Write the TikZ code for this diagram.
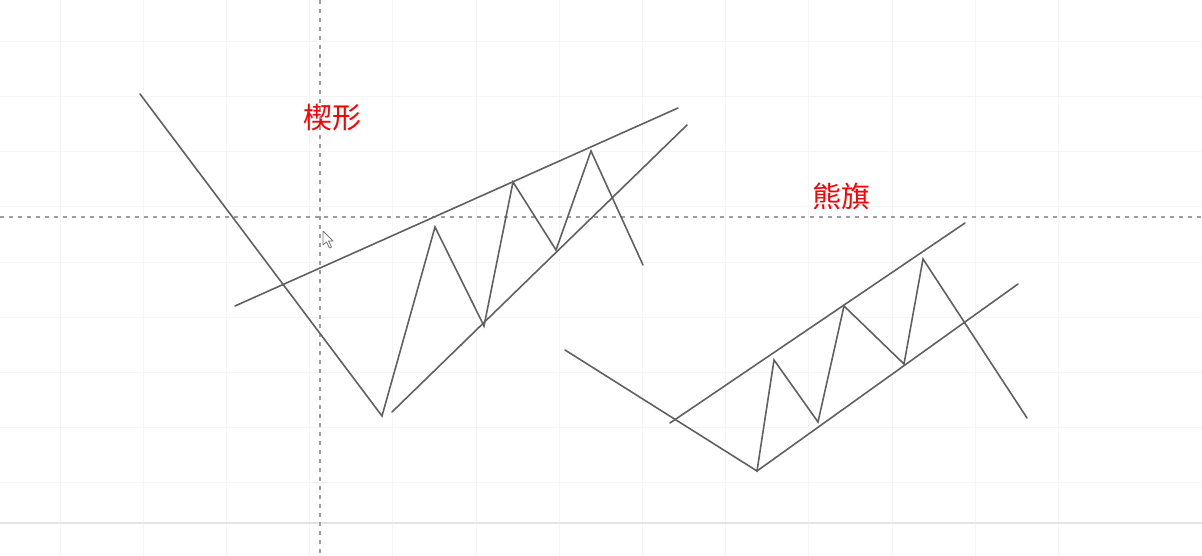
\documentclass[tikz,border=0pt]{standalone}
\usepackage{fontspec}
\newfontfamily\cjk{Noto Sans CJK SC}
\usetikzlibrary{positioning}

\begin{document}
\begin{tikzpicture}[x=1pt, y=-1pt]
			
			\tikzstyle{leg}=[draw=black!62, line width=1.6pt, line cap=round]
			\tikzstyle{guide}=[draw=black!38, line width=1.3pt, dash pattern=on 4pt off 5pt]
			\tikzstyle{gridline}=[draw=black!4, line width=1pt]
			\tikzstyle{title}=[text=red, font=\cjk\fontsize{29}{29}\selectfont]
			
			\useasboundingbox [fill=white] (0,0) rectangle (1202,556);
			
			%% faint background grid
			\foreach \gx in {60,143.2,...,1140} \draw [gridline] (\gx,0) -- (\gx,556);
			\foreach \gy in {42,97,...,500} \draw [gridline] (0,\gy) -- (1202,\gy);
			\draw [draw=black!10, line width=2pt] (0,523) -- (1202,523);
			
			\draw [guide] (320,0) -- (320,556);
			\draw [guide] (0,217) -- (1202,217);
			
			%% wedge
			\coordinate (w0) at (140,94);
			\coordinate (w1) at (382,416);
			\coordinate (w2) at (435,227);
			\coordinate (w3) at (484,326);
			\coordinate (w4) at (513,182);
			\coordinate (w5) at (556,250);
			\coordinate (w6) at (591,151);
			\coordinate (w7) at (643,265);
			
			\coordinate (wtopl) at (235,306);
			\coordinate (wtopr) at (678,108);
			\coordinate (wlowl) at (392,412);
			\coordinate (wlowr) at (687,125);
			
			\draw [leg] (w0) -- (w1) -- (w2) -- (w3) -- (w4) -- (w5) -- (w6) -- (w7);
			\draw [leg] (wtopl) -- (wtopr);
			\draw [leg] (wlowl) -- (wlowr);
			
			\node (wedge) at (332,118) [title] {楔形};
			
			%% bear flag
			\coordinate (f0) at (565,350);
			\coordinate (f1) at (757,471);
			\coordinate (f2) at (774,360);
			\coordinate (f3) at (818,422);
			\coordinate (f4) at (844,306);
			\coordinate (f5) at (904,364);
			\coordinate (f6) at (923,259);
			\coordinate (f7) at (1027,418);
			
			\coordinate (ftopl) at (670,423);
			\coordinate (ftopr) at (965,223);
			\coordinate (flowr) at (1018,284);
			
			\draw [leg] (f0) -- (f1) -- (f2) -- (f3) -- (f4) -- (f5) -- (f6) -- (f7);
			\draw [leg] (ftopl) -- (ftopr);
			\draw [leg] (f1) -- (flowr);
			
			\node (flag) at (841,196) [title] {熊旗};
			
			%% mouse pointer
			\draw [draw=black!55, fill=white, line width=0.8pt, line join=round]
				(323,231) -- (323,245) -- (326.5,242) -- (329.5,248) -- (331.5,247) -- (328.5,241) -- (333,241) -- cycle;
			
\end{tikzpicture}
\end{document}
